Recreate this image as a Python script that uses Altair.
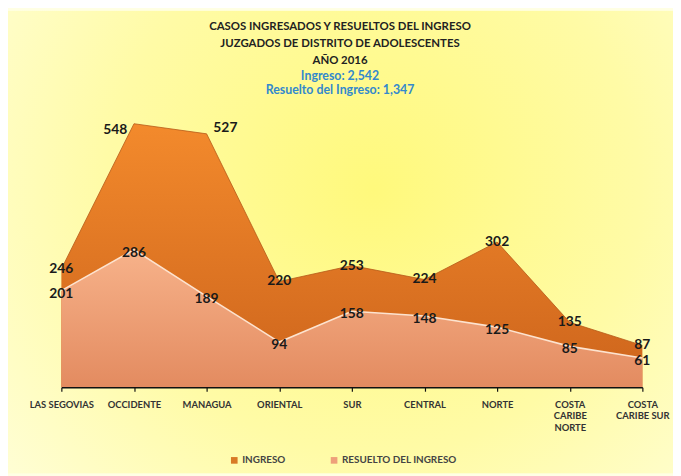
import altair as alt
import pandas as pd

regions = ["LAS SEGOVIAS", "OCCIDENTE", "MANAGUA", "ORIENTAL", "SUR",
           "CENTRAL", "NORTE", "COSTA CARIBE NORTE", "COSTA CARIBE SUR"]
ingreso = [246, 548, 527, 220, 253, 224, 302, 135, 87]
resuelto = [201, 286, 189, 94, 158, 148, 125, 85, 61]
series = ["INGRESO", "RESUELTO DEL INGRESO"]

df = pd.DataFrame({"region": regions, "ingreso": ingreso, "resuelto": resuelto})
legend_df = pd.DataFrame({"serie": series, "region": [regions[0], regions[0]], "v": [0, 0]})

W, H = 588, 292
PL, PT, PR, PB = 54, 89, 31, 87

label_expr = ("datum.label == 'COSTA CARIBE NORTE' ? ['COSTA','CARIBE','NORTE'] : "
              "datum.label == 'COSTA CARIBE SUR' ? ['COSTA','CARIBE SUR'] : datum.label")

x_scale = alt.Scale(type="point", padding=0)
x_enc = alt.X("region:N", sort=regions, title=None, scale=x_scale,
              axis=alt.Axis(labelAngle=0, labelExpr=label_expr, labelFont="Lato",
                            labelFontSize=9.5, labelFontWeight="bold", labelColor="#333333",
                            labelLineHeight=12, labelPadding=8, domainColor="#111111",
                            domainWidth=1.5, tickColor="#111111", tickSize=4,
                            tickWidth=1.2, grid=False, labelBaseline="top", zindex=2))
x_plain = alt.X("region:N", sort=regions, scale=x_scale)
y_scale = alt.Scale(domain=[0, 600], nice=False)

bg = alt.Chart(pd.DataFrame({"a": [0]})).mark_rect(
    color=alt.Gradient(gradient="radial", x1=0.55, y1=0.42, r1=0, x2=0.55, y2=0.42, r2=0.8,
                       stops=[alt.GradientStop(color="#FFF97C", offset=0),
                              alt.GradientStop(color="#FFFBA6", offset=0.5),
                              alt.GradientStop(color="#FFFFE4", offset=1)])
).encode(x=alt.value(-PL), x2=alt.value(W + PR), y=alt.value(-PT), y2=alt.value(H + PB))

base = alt.Chart(df)

area_ing = base.mark_area(
    opacity=1,
    color=alt.Gradient(gradient="linear", x1=0, x2=0, y1=0, y2=1,
                       stops=[alt.GradientStop(color="#F38A2C", offset=0),
                              alt.GradientStop(color="#CD641C", offset=1)]),
    line=alt.LineConfig(color="#B65A18", strokeWidth=0.8)
).encode(x=x_enc, y=alt.Y("ingreso:Q", scale=y_scale, axis=None))

area_res = base.mark_area(
    opacity=1,
    color=alt.Gradient(gradient="linear", x1=0, x2=0, y1=0, y2=1,
                       stops=[alt.GradientStop(color="#F7B28A", offset=0),
                              alt.GradientStop(color="#E38B60", offset=1)]),
    line=alt.LineConfig(color="#FDE3CF", strokeWidth=1.6)
).encode(x=x_enc, y=alt.Y("resuelto:Q", scale=y_scale, axis=None))

txt_style = dict(font="Lato", fontSize=14, fontWeight="bold", color="#1A1A1A",
                 baseline="middle", align="center")

txt_ing_mid = base.transform_filter(
    "datum.region != 'OCCIDENTE' && datum.region != 'MANAGUA'"
).mark_text(**txt_style).encode(
    x=x_plain, y=alt.Y("ingreso:Q", scale=y_scale), text="ingreso:Q")
txt_ing_l = base.transform_filter("datum.region == 'OCCIDENTE'").mark_text(
    **{**txt_style, "dx": -19, "dy": 6}).encode(
    x=x_plain, y=alt.Y("ingreso:Q", scale=y_scale), text="ingreso:Q")
txt_ing_r = base.transform_filter("datum.region == 'MANAGUA'").mark_text(
    **{**txt_style, "dx": 19, "dy": -6}).encode(
    x=x_plain, y=alt.Y("ingreso:Q", scale=y_scale), text="ingreso:Q")
txt_res = base.mark_text(**{**txt_style, "dy": 3}).encode(
    x=x_plain, y=alt.Y("resuelto:Q", scale=y_scale), text="resuelto:Q")

legend_layer = alt.Chart(legend_df).mark_point(filled=True, opacity=0, shape="square").encode(
    x=x_plain,
    y=alt.Y("v:Q", scale=y_scale),
    color=alt.Color("serie:N", sort=series,
                    scale=alt.Scale(domain=series, range=["#D87A26", "#EEA07A"]),
                    legend=alt.Legend(title=None, orient="none", direction="horizontal",
                                      legendX=170, legendY=361, symbolType="square",
                                      symbolSize=45, symbolOpacity=1, symbolStrokeWidth=0,
                                      labelFont="Lato", labelFontSize=10,
                                      labelFontWeight="bold", labelColor="#444444",
                                      columnPadding=44, symbolOffset=0, labelOffset=3)))

chart = alt.layer(bg, area_ing, area_res, txt_ing_mid, txt_ing_l, txt_ing_r, txt_res,
                  legend_layer).properties(
    width=W, height=H,
    autosize=alt.AutoSizeParams(type="none"),
    padding={"left": PL, "top": PT, "right": PR, "bottom": PB},
    title=alt.TitleParams(
        text=["CASOS INGRESADOS Y RESUELTOS DEL INGRESO",
              "JUZGADOS DE DISTRITO DE ADOLESCENTES", "AÑO 2016"],
        subtitle=["Ingreso: 2,542", "Resuelto del Ingreso: 1,347"],
        font="Lato", fontSize=11.5, fontWeight="bold", color="#222222", lineHeight=17.5,
        subtitleFont="Lato", subtitleFontSize=12.5, subtitleFontWeight="bold",
        subtitleColor="#3389CC", subtitleLineHeight=14, subtitlePadding=4,
        anchor="middle", frame="group", offset=-87, dx=-12)
).configure_view(stroke=None).configure(background="#FFFFE4")

chart.save("out.html", embed_options={"renderer": "svg", "actions": False})
